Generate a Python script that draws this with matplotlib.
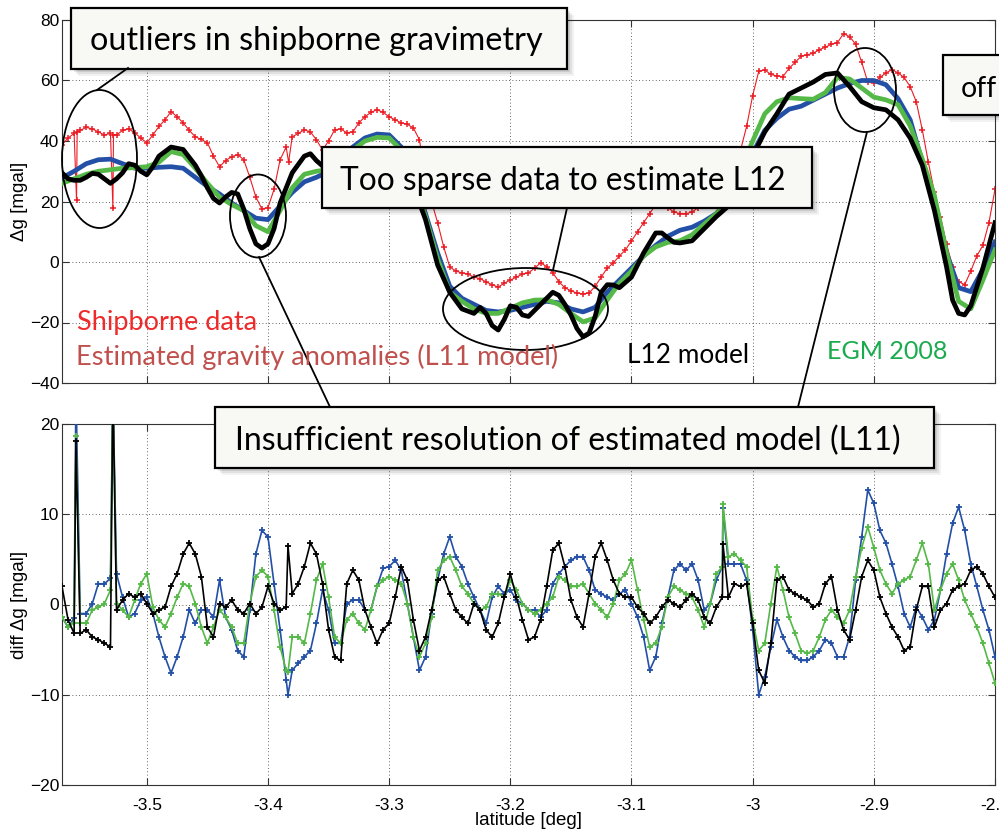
import numpy as np
import matplotlib
matplotlib.use("Agg")
import matplotlib.pyplot as plt
from matplotlib.patches import Ellipse, Rectangle

plt.rcParams['font.family'] = ['Liberation Sans', 'DejaVu Sans']

# ---------------- top panel: gravity anomalies [mgal] ----------------
lat_top = [-3.57, -3.56, -3.55, -3.54, -3.53, -3.52, -3.51, -3.50, -3.49, -3.48,
           -3.47, -3.46, -3.45, -3.44, -3.43, -3.42, -3.41, -3.40, -3.39, -3.38,
           -3.37, -3.36, -3.35, -3.34, -3.33, -3.32, -3.31, -3.30, -3.29, -3.28,
           -3.27, -3.26, -3.25, -3.24, -3.23, -3.22, -3.21, -3.20, -3.19, -3.18,
           -3.17, -3.16, -3.15, -3.14, -3.13, -3.12, -3.11, -3.10, -3.09, -3.08,
           -3.07, -3.06, -3.05, -3.04, -3.03, -3.02, -3.01, -3.00, -2.99, -2.98,
           -2.97, -2.96, -2.95, -2.94, -2.93, -2.92, -2.91, -2.90, -2.89, -2.88,
           -2.87, -2.86, -2.85, -2.84, -2.83, -2.82, -2.81, -2.80]
l11_top = [27.8, 30, 32.5, 33.8, 34, 32.5, 31, 31, 31.3, 31.5,
           31, 28, 25, 22.5, 19.5, 17, 14.5, 14, 18.5, 23,
           26.5, 28, 30, 34, 38, 41, 42.3, 42, 38, 28,
           16, 3, -8, -12, -14, -16, -16.5, -16, -15, -14,
           -13, -13.5, -15.5, -16.5, -15, -10, -6, -2, 2, 5.5,
           8.5, 10.5, 11.5, 13.5, 16, 20, 28, 36, 43.5, 47.5,
           50.5, 51.5, 53.5, 55.5, 57.5, 59, 60, 60, 58.6, 54,
           47, 33, 20, 3, -8.5, -9.8, -2.5, 6.6]
egm_top = [26, 27.5, 29, 30, 30.5, 31, 31.2, 31.5, 33, 36.5,
           35.5, 31, 26, 21.5, 19, 17, 12, 10, 17, 24.5,
           29, 30, 30.5, 33, 37, 40, 41.2, 41, 37, 27,
           15, 1, -10, -13, -15.5, -17, -17, -15.3, -13.5, -12.6,
           -12.5, -14, -17, -19.8, -18.5, -12.5, -7, -3, 2, 5,
           6.5, 7, 9, 12.5, 16, 21, 30, 40, 49, 53,
           54.3, 54, 53.8, 56, 61, 60.5, 57.5, 54.5, 53.6, 52,
           45, 34, 22, 3, -13, -15.5, -6, 4]

lat_l12 = [-3.57, -3.565, -3.56, -3.555, -3.55, -3.545, -3.54, -3.535, -3.53, -3.525,
           -3.52, -3.515, -3.51, -3.505, -3.50, -3.495, -3.49, -3.48, -3.47, -3.46,
           -3.455, -3.45, -3.445, -3.44, -3.435, -3.43, -3.425, -3.42, -3.415, -3.41,
           -3.405, -3.40, -3.395, -3.39, -3.38, -3.37, -3.365, -3.36, -3.35, -3.34,
           -3.33, -3.32, -3.31, -3.30, -3.29, -3.28, -3.27, -3.26, -3.25, -3.24,
           -3.23, -3.225, -3.22, -3.215, -3.21, -3.205, -3.20, -3.195, -3.19, -3.185,
           -3.18, -3.17, -3.165, -3.16, -3.155, -3.15, -3.145, -3.14, -3.135, -3.13,
           -3.125, -3.12, -3.115, -3.11, -3.10, -3.09, -3.08, -3.075, -3.07, -3.065,
           -3.06, -3.05, -3.04, -3.03, -3.02, -3.01, -3.00, -2.99, -2.98, -2.97,
           -2.96, -2.95, -2.94, -2.93, -2.92, -2.91, -2.90, -2.89, -2.88, -2.87,
           -2.86, -2.85, -2.84, -2.835, -2.83, -2.825, -2.82, -2.81, -2.80]
l12_top = [29.5, 27.5, 27, 27, 28, 29.3, 29, 27.5, 26, 27.5,
           29.5, 32.5, 32, 30, 28.8, 31.5, 35, 38, 37.2, 32,
           28.5, 24.5, 21, 19.5, 21.5, 23, 22.5, 17.5, 11, 6,
           4.6, 6, 11, 19.5, 29.5, 35, 35.8, 33.5, 30, 29,
           31, 34, 36, 36, 33, 25, 14, -1, -10, -15.5,
           -17, -15, -17, -21, -22.5, -19, -14.5, -15, -17.5, -18,
           -16, -12, -10, -11, -14, -17.5, -22, -24.7, -23.5, -18,
           -10, -7.5, -7.6, -8.5, -5, 3, 9.6, 9.6, 8, 6.5,
           6.3, 7, 11, 15, 18.5, 28, 35, 43, 49, 55.5,
           57.5, 59.5, 62, 62.5, 58, 53, 51, 50.3, 47, 41,
           32, 17, -1.6, -12.6, -17, -17.5, -14.5, -2, 13]

lat_ship = [-3.57, -3.565, -3.56, -3.558, -3.5575, -3.555, -3.55, -3.545, -3.54, -3.535,
            -3.53, -3.528, -3.5275, -3.525, -3.52, -3.515, -3.51, -3.505, -3.50, -3.495,
            -3.49, -3.485, -3.48, -3.475, -3.47, -3.465, -3.46, -3.455, -3.45, -3.445,
            -3.44, -3.435, -3.43, -3.425, -3.42, -3.415, -3.41, -3.405, -3.40, -3.395,
            -3.39, -3.385, -3.383, -3.38, -3.375, -3.37, -3.365, -3.36, -3.355, -3.35,
            -3.345, -3.34, -3.335, -3.33, -3.325, -3.32, -3.315, -3.31, -3.305, -3.30,
            -3.295, -3.29, -3.285, -3.28, -3.275, -3.27, -3.265, -3.26, -3.255, -3.25,
            -3.245, -3.24, -3.235, -3.23, -3.225, -3.22, -3.215, -3.21, -3.205, -3.20,
            -3.195, -3.19, -3.185, -3.18, -3.175, -3.17, -3.165, -3.16, -3.155, -3.15,
            -3.145, -3.14, -3.135, -3.13, -3.125, -3.12, -3.115, -3.11, -3.105, -3.10,
            -3.095, -3.09, -3.085, -3.08, -3.075, -3.07, -3.065, -3.06, -3.055, -3.05,
            -3.045, -3.04, -3.03, -3.02, -3.01, -3.005, -3.00, -2.995, -2.99, -2.985,
            -2.98, -2.975, -2.97, -2.965, -2.96, -2.955, -2.95, -2.945, -2.94, -2.935,
            -2.93, -2.925, -2.92, -2.915, -2.91, -2.905, -2.90, -2.895, -2.89, -2.885,
            -2.88, -2.875, -2.87, -2.865, -2.86, -2.855, -2.85, -2.845, -2.84, -2.835,
            -2.83, -2.825, -2.82, -2.815, -2.81, -2.805, -2.80]
ship = [38.7, 41, 42.5, 20.5, 43, 43.5, 44.5, 44, 43, 42,
        42.5, 18, 42, 42, 43.5, 44, 42.7, 41, 39.4, 42,
        44.8, 47, 49.7, 48, 46, 43.5, 41.4, 40.5, 39.4, 35,
        31.5, 33.5, 34.8, 35.5, 33.8, 28, 21.5, 17.5, 18, 24,
        33.8, 38, 33, 41.4, 42.5, 43.7, 43, 40.4, 37, 40,
        43.7, 44, 42.7, 43, 46, 48, 49.5, 50.3, 49.5, 48,
        47, 46, 45.5, 44.3, 40.4, 28, 20, 13, 5, -1.6,
        -3, -3.6, -4, -5, -5.5, -6.6, -7.5, -8.3, -7, -6,
        -5, -4, -3.6, -2, -0.3, -1.5, -3.5, -6.5, -8.5, -9.5,
        -10.3, -10.5, -10.3, -8, -5, -2, -0.3, 2, 4, 7,
        10, 13, 16, 19, 20, 18, 16.5, 16, 16, 16.5,
        18, 19, 22, 27, 37, 44.8, 55, 63, 63.5, 62,
        61.5, 61.3, 64, 66, 68, 68.5, 69, 70.2, 71, 72,
        72.5, 75.5, 74.5, 72, 66, 59.5, 59.3, 61, 62.5, 63.6,
        62.5, 61, 58, 53, 43.7, 33, 23, 15, 6, -1.6,
        -6.5, -7.5, -3, 2, 5.5, 13, 24]

# ---------------- bottom panel: differences [mgal] ----------------
lat_diff = [-3.570, -3.565, -3.560, -3.5585, -3.555, -3.550, -3.545, -3.540, -3.535, -3.530, -3.528, -3.525,
            -3.520, -3.515, -3.510, -3.505, -3.500, -3.495, -3.490, -3.485, -3.480, -3.475,
            -3.470, -3.465, -3.460, -3.455, -3.450, -3.445, -3.440, -3.435, -3.430, -3.425,
            -3.420, -3.415, -3.410, -3.405, -3.400, -3.395, -3.390, -3.385, -3.3835, -3.380, -3.375,
            -3.370, -3.365, -3.360, -3.355, -3.350, -3.345, -3.340, -3.335, -3.330, -3.325,
            -3.320, -3.315, -3.310, -3.305, -3.300, -3.295, -3.290, -3.285, -3.280, -3.275,
            -3.270, -3.265, -3.260, -3.255, -3.250, -3.245, -3.240, -3.235, -3.230, -3.225,
            -3.220, -3.215, -3.210, -3.205, -3.200, -3.195, -3.190, -3.185, -3.180, -3.175,
            -3.170, -3.165, -3.160, -3.155, -3.150, -3.145, -3.140, -3.135, -3.130, -3.125,
            -3.120, -3.115, -3.110, -3.105, -3.100, -3.095, -3.090, -3.085, -3.080, -3.075,
            -3.070, -3.065, -3.060, -3.055, -3.050, -3.045, -3.040, -3.035, -3.030, -3.025, -3.0245,
            -3.020, -3.015, -3.010, -3.005, -3.000, -2.995, -2.990, -2.985, -2.980, -2.975,
            -2.970, -2.965, -2.960, -2.955, -2.950, -2.945, -2.940, -2.935, -2.930, -2.925,
            -2.920, -2.915, -2.910, -2.905, -2.900, -2.895, -2.890, -2.885, -2.880, -2.875,
            -2.870, -2.865, -2.860, -2.855, -2.850, -2.845, -2.840, -2.835, -2.830, -2.825,
            -2.820, -2.815, -2.810, -2.805, -2.800]
diff_l11 = [-1.4, -2.5, -1.5, 24, -1.0, -1.0, 0.1, 2.3, 2.3, 2.9, 24, 3.4,
            0.8, -1.4, -1.0, 0.5, 0.8, -1.0, -3.6, -5.8, -7.6, -5.8,
            -3.6, -0.6, -2.1, -0.6, -0.6, -1.4, 2.7, -1.4, -2.8, -5.1,
            -5.8, -0.6, 5.6, 8.2, 7.5, 2.3, -2.8, -8.4, -10.0, -7.3, -6.5,
            -5.8, -5.1, -2.1, 1.6, -0.6, -4.3, -4.3, 0.1, 0.5, 0.5,
            -0.6, -0.6, 2.0, 4.0, 4.2, 4.9, 3.8, 0.1, -3.6, -7.3,
            -5.8, -1.0, 2.7, 5.6, 7.5, 5.3, 4.2, 2.3, 0.8, -0.6,
            -2.1, 0.8, 2.0, 1.2, 1.6, 0.5, 0.1, -0.6, -0.6, -1.4,
            -0.6, 2.3, 3.4, 4.2, 4.9, 5.3, 5.3, 3.8, 1.6, 1.2,
            0.8, 0.5, 1.2, 1.6, 0.1, -1.4, -3.6, -7.3, -5.8, -2.1,
            0.8, 3.8, 4.5, 3.8, 4.5, 2.7, -0.6, 0.1, 2.7, 4.2, 10.7,
            4.5, 4.5, 4.5, 2.7, -2.8, -10.0, -8.0, -4.7, -1.7, -3.6,
            -5.1, -5.8, -6.2, -6.2, -5.8, -5.1, -3.9, -4.3, -5.8, -5.8,
            -3.6, 2.7, 7.5, 12.7, 11.2, 8.2, 6.8, 4.5, 2.0, -1.0,
            -2.5, -0.3, -1.4, -2.8, -1.7, 1.6, 5.6, 9.0, 10.8, 8.2,
            4.5, 2.0, -0.6, -2.8, -5.8]
diff_egm = [-1.4, -2.5, -2.0, 18.7, -2.0, -2.1, -0.6, -0.3, 0.1, 1.6, 24, 0.1,
            -0.6, -1.4, 0.5, 2.3, 3.4, -0.3, -1.7, -2.5, -1.0, 0.8,
            2.3, 2.0, 0.1, -2.5, -4.3, -2.5, -0.6, -1.4, -2.5, -4.3,
            -4.3, 0.1, 3.1, 3.8, 3.1, -0.6, -4.7, -7.3, -7.5, -3.6, -3.6,
            -4.3, -1.0, 2.7, 4.5, 0.8, -3.6, -4.3, -1.7, -1.0, -2.1,
            -2.8, -0.6, 2.0, 2.7, 3.1, 2.7, 2.3, 0.1, -3.6, -5.8,
            -4.3, -1.4, 3.8, 4.9, 5.3, 3.8, 2.0, 1.2, 0.1, -0.6,
            -0.3, 1.2, 1.2, 0.8, 2.7, 1.6, 0.1, -0.6, -1.0, -0.6,
            0.1, 0.8, 3.1, 2.7, 2.0, 2.0, 2.3, 1.2, 0.1, -0.6,
            -1.4, 0.1, 2.7, 3.4, 4.9, 1.6, -1.7, -4.7, -4.3, -2.5,
            0.8, 2.0, 1.6, 1.2, 0.8, -0.6, -2.5, 0.1, 3.4, 4.2, 11.1,
            5.3, 5.6, 4.9, 4.2, -1.7, -5.1, -4.3, 0.1, 4.2, 1.6,
            -1.4, -3.2, -5.1, -5.4, -5.1, -3.6, -1.7, -0.6, -1.4, -2.1,
            -0.6, 3.1, 6.3, 8.6, 6.3, 3.8, 2.3, 1.2, 2.3, 2.7,
            3.1, 4.9, 6.8, 4.5, -0.6, 1.6, 3.4, 4.5, 2.7, 0.5,
            -1.0, -2.5, -4.3, -6.5, -8.7]
diff_l12 = [2.0, -1.7, -3.2, 18.1, -3.2, -2.8, -3.6, -3.9, -4.3, -4.7, 24, -0.6,
            0.5, 1.2, 0.8, 1.2, 0.1, -1.0, -0.6, -0.3, 2.0, 3.4,
            5.6, 6.8, 5.6, 3.1, -2.5, -3.6, 0.1, -0.3, 0.5, -0.6,
            -1.0, 0.1, -1.0, -0.3, 2.0, 0.1, -0.6, -0.3, 6.5, 1.2, 2.3,
            4.2, 6.8, 5.6, 2.3, -2.8, -5.8, -6.2, 2.3, 3.8, 2.7,
            -0.6, -2.5, -4.3, -2.8, -2.1, 0.8, 4.2, 2.7, -1.7, -5.1,
            -3.6, -0.6, 2.7, 3.1, 1.2, -0.6, -1.4, -2.1, 0.1, -0.6,
            -2.8, -3.6, -2.1, 0.8, 3.4, 0.8, -1.7, -3.9, -3.6, -1.7,
            2.0, 6.0, 6.8, 4.2, 0.5, -1.4, -2.5, 1.2, 5.3, 6.8,
            4.9, 2.7, 1.2, 0.8, 0.8, -0.3, -1.0, -2.1, -1.4, -0.3,
            0.5, 0.1, -0.3, 0.5, 1.2, 0.5, -1.4, -2.1, -0.3, 0.8, 6.7,
            0.8, 2.3, 2.0, 2.3, -2.1, -7.3, -8.7, -4.3, 2.7, 3.1,
            1.6, 1.2, 0.8, 0.5, -0.3, 0.1, 2.3, 3.1, -0.6, -2.8,
            -3.9, -0.6, 3.1, 4.9, 3.8, 0.8, -1.0, -2.5, -3.6, -5.1,
            -4.7, -0.6, 2.0, 2.0, -2.5, -0.6, 0.1, 1.6, 2.0, 2.3,
            3.8, 4.2, 3.4, 2.0, 0.8]

xticks = [-3.5, -3.4, -3.3, -3.2, -3.1, -3.0, -2.9, -2.8]
xtick_labels = ['-3.5', '-3.4', '-3.3', '-3.2', '-3.1', '-3', '-2.9', '-2.8']

RED = '#ec1c24'
BLUE = '#2350a6'
GREEN = '#55b947'

fig = plt.figure(figsize=(9.99, 8.32), dpi=100)
W, H = 999, 832
ax1 = fig.add_axes([62 / W, 1 - 383 / H, 933 / W, 363 / H])
ax2 = fig.add_axes([62 / W, 1 - 785 / H, 933 / W, 361 / H])


def matlab_style(ax, ylim, yticks):
    ax.set_xlim(-3.57, -2.8)
    ax.set_ylim(*ylim)
    ax.set_yticks(yticks)
    ax.set_xticks(xticks)
    ax.grid(True, color='#333333', linestyle=(0, (1, 3)), linewidth=0.6)
    ax.tick_params(direction='in', length=5, width=0.8, top=True, right=True,
                   labelsize=12.5, color='#333333')
    ax.tick_params(axis='y', pad=2)
    ax.tick_params(axis='x', pad=9)
    for s in ax.spines.values():
        s.set_linewidth(0.8)
        s.set_color('#333333')
    ax.set_axisbelow(True)


# top panel
matlab_style(ax1, (-40, 80), [-40, -20, 0, 20, 40, 60, 80])
ax1.set_xticklabels([])
ax1.plot(lat_ship, ship, color=RED, lw=0.8, marker='+', ms=5, mew=1.1, zorder=2)
ax1.plot(lat_top, l11_top, color=BLUE, lw=3.4, zorder=3)
ax1.plot(lat_top, egm_top, color=GREEN, lw=3.4, zorder=4)
ax1.plot(lat_l12, l12_top, color='black', lw=3.4, zorder=5)
ax1.set_ylabel('\u0394g [mgal]', fontsize=13.5)
ax1.yaxis.set_label_coords(-0.036, 0.5)

# bottom panel
matlab_style(ax2, (-20, 20), [-20, -10, 0, 10, 20])
ax2.set_xticklabels(xtick_labels)
for vals, col, z in ((diff_l11, BLUE, 3), (diff_egm, GREEN, 4), (diff_l12, 'black', 5)):
    ax2.plot(lat_diff, vals, color=col, lw=1.2, marker='+', ms=5, mew=1.3, zorder=z)
ax2.set_ylabel('diff \u0394g [mgal]', fontsize=13.5)
ax2.yaxis.set_label_coords(-0.036, 0.5)
ax2.set_xlabel('latitude [deg]', fontsize=13.5)
ax2.xaxis.set_label_coords(0.5, -0.075)

# ---------------- slide overlay (pixel coordinates) ----------------
ov = fig.add_axes([0, 0, 1, 1], zorder=10)
ov.set_xlim(0, W)
ov.set_ylim(H, 0)
ov.axis('off')
renderer = fig.canvas.get_renderer()


def fit_text(x, y, s, width, **kw):
    t = ov.text(x, y, s, fontsize=20, **kw)
    w = t.get_window_extent(renderer).width
    t.set_fontsize(20 * width / w)
    return t


def callout(x0, y0, x1, y1):
    for off, a in ((7, 0.05), (5, 0.07), (3, 0.09)):
        ov.add_patch(Rectangle((x0 + off, y0 + off), x1 - x0, y1 - y0,
                               fc='black', ec='none', alpha=a))
    ov.add_patch(Rectangle((x0, y0), x1 - x0, y1 - y0, fc='#f8f8f5',
                           ec='black', lw=1.6))


# ellipses and pointer lines
for (cx, cy, ew, eh) in [(99.5, 159, 75, 138), (258, 216, 56, 83),
                         (865, 90, 62, 84), (525.5, 309, 165, 82)]:
    ov.add_patch(Ellipse((cx, cy), ew, eh, fill=False, ec='black', lw=1.3))
for (xa, ya, xb, yb) in [(128, 68, 97, 90), (567, 208, 553, 270),
                         (259, 257, 330, 407), (867, 132, 798, 407)]:
    ov.plot([xa, xb], [ya, yb], color='black', lw=1.3)

FONT = 'Lato'
callout(71, 8, 567, 69)
fit_text(90, 50, 'outliers in shipborne gravimetry', 453, family=FONT, va='baseline')
callout(322, 147, 812, 208)
fit_text(340, 190, 'Too sparse data to estimate L12', 446, family=FONT, va='baseline')
callout(215, 407, 934, 468)
fit_text(235, 450, 'Insufficient resolution of estimated model (L11)', 668, family=FONT, va='baseline')
callout(943, 55, 1020, 115)
fit_text(961, 97, 'off', 36, family=FONT, va='baseline')

fit_text(77, 330, 'Shipborne data', 181, family=FONT, va='baseline', color='#ee2a2a')
fit_text(76, 365, 'Estimated gravity anomalies (L11 model)', 484, family=FONT, va='baseline', color='#c0504d')
fit_text(627, 363, 'L12 model', 122, family=FONT, va='baseline', color='black')
fit_text(827, 359, 'EGM 2008', 121, family=FONT, va='baseline', color='#1aab4f')

fig.savefig('out.png', dpi=100)
